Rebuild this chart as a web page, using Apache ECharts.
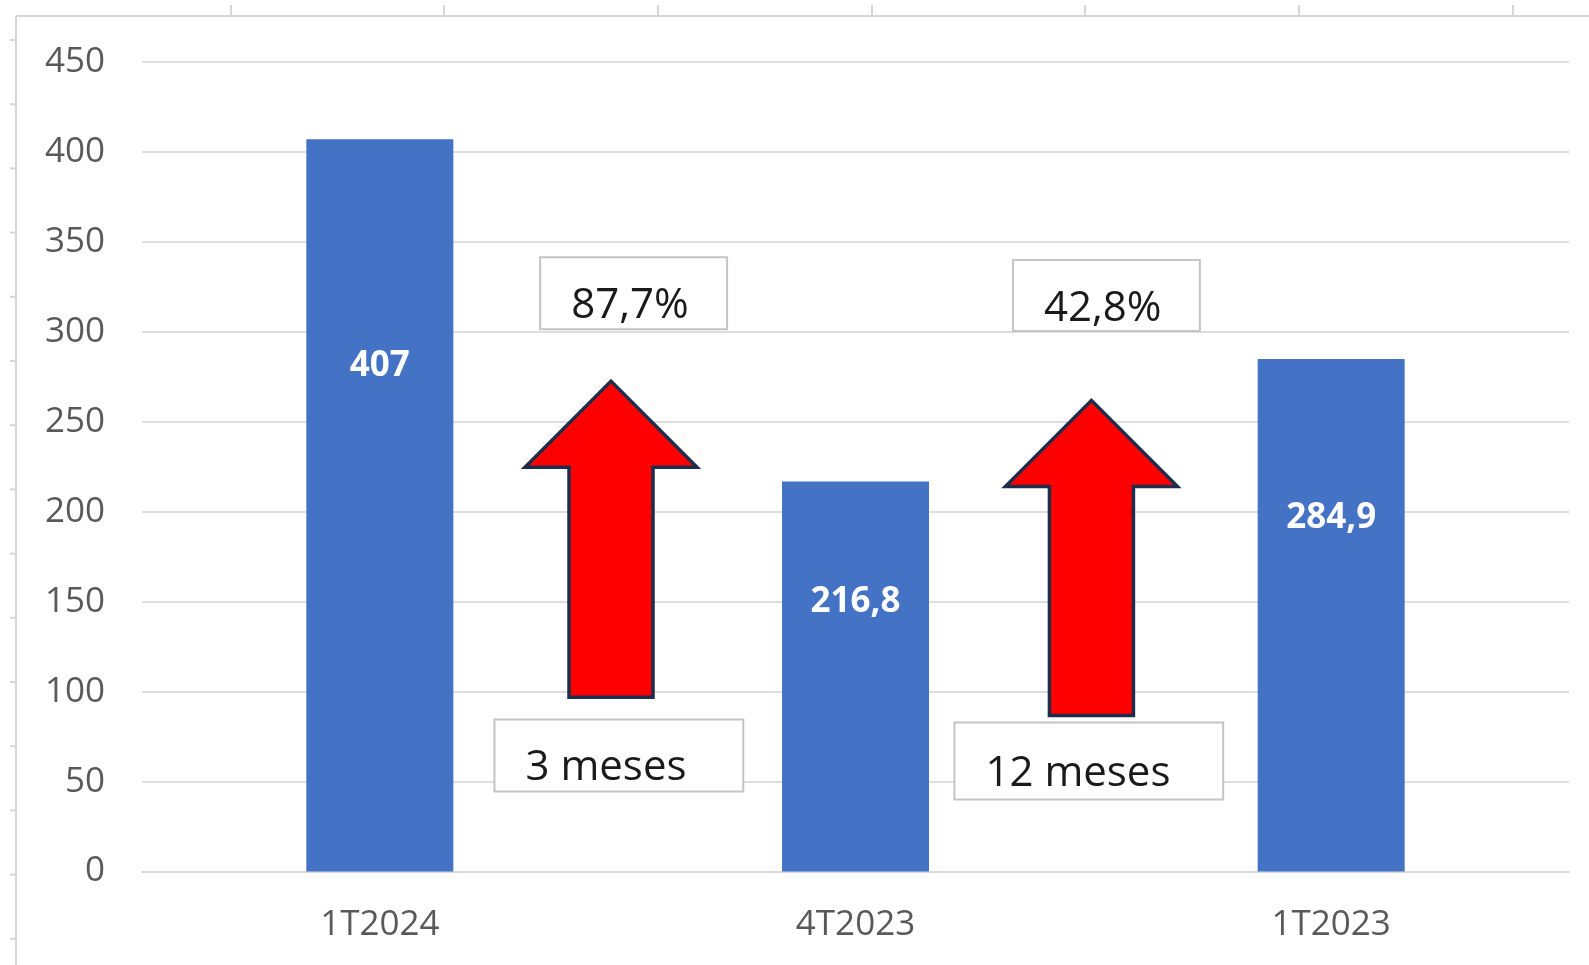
<!DOCTYPE html>
<html>
<head>
<meta charset="utf-8">
<script src="https://cdn.jsdelivr.net/npm/echarts@6/dist/echarts.min.js"></script>
<style>
  html, body { margin: 0; padding: 0; background: #fff; }
  #chart { width: 1589px; height: 965px; }
</style>
</head>
<body>
<div id="chart"></div>
<script>
const categories = ["1T2024", "4T2023", "1T2023"];
const values = [407, 216.8, 284.9];
const yTicks = [0, 50, 100, 150, 200, 250, 300, 350, 400, 450];

// arrows: x position (category index units), tip, shoulder and base values
const arrowX = [0.486, 1.496];
const arrowTip = [272.6, 261.9];
const arrowShoulder = [224.7, 214.0];
const arrowBase = [96.9, 86.7];

// annotation boxes: text, left/right (category units), top/bottom (axis values)
const boxText = ["87,7%", "42,8%", "3 meses", "12 meses"];
const boxLeft = [0.337, 1.331, 0.241, 1.208];
const boxRight = [0.730, 1.724, 0.764, 1.773];
const boxTop = [341.5, 339.9, 84.5, 82.8];
const boxBottom = [301.5, 300.4, 44.5, 40.0];

const fmt = v => String(v).replace(".", ",");

const chart = echarts.init(document.getElementById("chart"));

// spreadsheet frame around the chart object
const frame = [];
const lineStyle = { stroke: "#d6d6d6", lineWidth: 2 };
frame.push({ type: "line", shape: { x1: 16, y1: 16, x2: 1589, y2: 16 }, style: lineStyle, silent: true });
frame.push({ type: "line", shape: { x1: 16, y1: 16, x2: 16, y2: 965 }, style: lineStyle, silent: true });
[231, 444, 658, 872, 1085, 1299, 1513].forEach(x => {
  frame.push({ type: "line", shape: { x1: x, y1: 5, x2: x, y2: 16 }, style: lineStyle, silent: true });
});
for (let y = 40; y < 965; y += 64.2) {
  frame.push({ type: "line", shape: { x1: 10, y1: y, x2: 16, y2: y }, style: lineStyle, silent: true });
}

const arrowData = arrowX.map((x, i) => [x, arrowTip[i], arrowShoulder[i], arrowBase[i]]);
const boxData = boxText.map((t, i) => [boxLeft[i], boxTop[i], boxRight[i], boxBottom[i], t]);

const option = {
  animation: false,
  backgroundColor: "#ffffff",
  graphic: frame,
  grid: { left: 142, right: 20, top: 62, bottom: 93.5 },
  xAxis: [
    {
      type: "category",
      data: categories,
      axisLine: { show: true, lineStyle: { color: "#d9d9d9", width: 2 } },
      axisTick: { show: false },
      axisLabel: { color: "#595959", fontSize: 35, fontFamily: "Open Sans", margin: 36 }
    },
    { type: "value", min: -0.5, max: 2.5, show: false }
  ],
  yAxis: {
    type: "value",
    min: yTicks[0],
    max: yTicks[yTicks.length - 1],
    interval: 50,
    axisLine: { show: false },
    axisTick: { show: false },
    axisLabel: { color: "#595959", fontSize: 35, fontFamily: "Open Sans", margin: 37 },
    splitLine: { lineStyle: { color: "#dedede", width: 2 } }
  },
  series: [
    {
      type: "bar",
      data: values,
      barWidth: 147,
      itemStyle: { color: "#4472C4" },
      label: {
        show: true,
        position: ["50%", "31%"],
        align: "center",
        verticalAlign: "middle",
        color: "#ffffff",
        fontWeight: "bold",
        fontSize: 35,
        fontFamily: "Open Sans",
        formatter: p => fmt(p.value)
      }
    },
    {
      type: "custom",
      xAxisIndex: 1,
      data: arrowData,
      z: 5,
      renderItem: (params, api) => {
        const x = api.value(0);
        const tip = api.coord([x, api.value(1)]);
        const sh = api.coord([x, api.value(2)]);
        const base = api.coord([x, api.value(3)]);
        const hw = 86, sw = 42;
        return {
          type: "polygon",
          shape: {
            points: [
              [tip[0], tip[1]],
              [tip[0] + hw, sh[1]],
              [tip[0] + sw, sh[1]],
              [tip[0] + sw, base[1]],
              [tip[0] - sw, base[1]],
              [tip[0] - sw, sh[1]],
              [tip[0] - hw, sh[1]]
            ]
          },
          style: { fill: "#ff0000", stroke: "#1f2d4d", lineWidth: 3.5, lineJoin: "miter" }
        };
      }
    },
    {
      type: "custom",
      xAxisIndex: 1,
      data: boxData,
      z: 6,
      renderItem: (params, api) => {
        const p1 = api.coord([api.value(0), api.value(1)]);
        const p2 = api.coord([api.value(2), api.value(3)]);
        const text = boxData[params.dataIndex][4];
        return {
          type: "group",
          children: [
            {
              type: "rect",
              shape: { x: p1[0], y: p1[1], width: p2[0] - p1[0], height: p2[1] - p1[1] },
              style: { fill: "#ffffff", stroke: "#c4c4c4", lineWidth: 2 }
            },
            {
              type: "text",
              style: {
                x: p1[0] + 31,
                y: (p1[1] + p2[1]) / 2 + 13,
                text: text,
                fill: "#1a1a1a",
                fontSize: 42,
                fontFamily: "Open Sans",
                verticalAlign: "middle",
                align: "left"
              }
            }
          ]
        };
      }
    }
  ]
};

chart.setOption(option);
window.addEventListener("resize", () => chart.resize());
</script>
</body>
</html>
